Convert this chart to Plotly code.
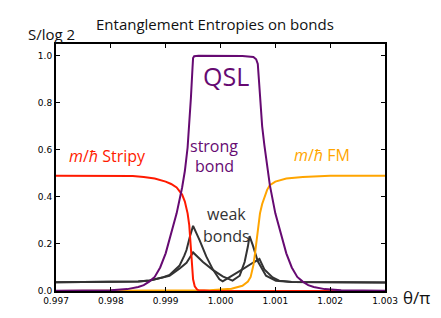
import plotly.graph_objects as go

# ---- data ----
stripy_x = [0.997, 0.998, 0.9984, 0.9986, 0.9988, 0.9990, 0.9991, 0.9992, 0.9993, 0.99935,
            0.9994, 0.99943, 0.99946, 0.99948, 0.9995, 0.99953, 0.99957, 0.9996, 0.9998, 1.0003, 1.003]
stripy_y = [0.49, 0.49, 0.489, 0.485, 0.478, 0.465, 0.455, 0.44, 0.41, 0.38,
            0.33, 0.28, 0.19, 0.11, 0.05, 0.02, 0.007, 0.003, 0.001, 0.0, 0.0]

fm_x = [0.997, 0.9995, 0.9998, 1.0000, 1.0002, 1.0004, 1.0005, 1.00055, 1.0006, 1.00063,
        1.00066, 1.00069, 1.00072, 1.00076, 1.0008, 1.00085, 1.0009, 1.001, 1.0012, 1.0015, 1.002, 1.003]
fm_y = [0.0, 0.001, 0.003, 0.006, 0.01, 0.022, 0.04, 0.06, 0.11, 0.16,
        0.22, 0.28, 0.33, 0.37, 0.40, 0.43, 0.45, 0.465, 0.478, 0.485, 0.49, 0.49]

strong_x = [0.997, 0.998, 0.9983, 0.9985, 0.9986, 0.9987, 0.9988, 0.9989, 0.9990, 0.9991,
            0.9992, 0.9993, 0.99935, 0.9994, 0.99943, 0.99946, 0.99949, 0.9995, 0.99952, 0.9996,
            1.0004, 1.0006, 1.00065, 1.00068, 1.0007, 1.00073, 1.00076, 1.0008, 1.00085, 1.0009,
            1.001, 1.0011, 1.0012, 1.0013, 1.0014, 1.0015, 1.0016, 1.0017, 1.0019, 1.0022, 1.003]
strong_y = [0.001, 0.003, 0.008, 0.017, 0.025, 0.04, 0.06, 0.10, 0.16, 0.24,
            0.33, 0.44, 0.51, 0.61, 0.70, 0.82, 0.95, 0.99, 0.998, 1.0,
            0.999, 0.995, 0.985, 0.965, 0.90, 0.80, 0.70, 0.62, 0.53, 0.45,
            0.33, 0.24, 0.16, 0.10, 0.06, 0.04, 0.025, 0.017, 0.008, 0.003, 0.001]

weak1_x = [0.997, 0.998, 0.9985, 0.99871, 0.99895, 0.99907, 0.99925, 0.99934, 0.99938, 0.99944,
           0.9995, 0.99962, 0.99974, 0.99986, 0.99998, 1.00004, 1.00022, 1.0004, 1.00059, 1.00071,
           1.0008, 1.00095, 1.00107, 1.0013, 1.003]
weak1_y = [0.037, 0.037, 0.04, 0.045, 0.058, 0.068, 0.107, 0.15, 0.174, 0.23,
           0.277, 0.215, 0.147, 0.092, 0.05, 0.041, 0.065, 0.092, 0.12, 0.136,
           0.092, 0.058, 0.044, 0.038, 0.036]

weak2_x = [0.997, 0.998, 0.9985, 0.99871, 0.99907, 0.99925, 0.99938, 0.99947, 0.9995, 0.99968,
           0.99986, 1.00004, 1.00022, 1.00035, 1.00044, 1.0005, 1.00053, 1.00059, 1.00068, 1.00083,
           1.00101, 1.0013, 1.003]
weak2_y = [0.037, 0.037, 0.04, 0.045, 0.065, 0.095, 0.12, 0.153, 0.164, 0.123,
           0.09, 0.062, 0.044, 0.065, 0.123, 0.19, 0.233, 0.194, 0.126, 0.065,
           0.044, 0.038, 0.036]

x_ticks = [0.997, 0.998, 0.999, 1.000, 1.001, 1.002, 1.003]
x_tick_labels = ["0.997", "0.998", "0.999", "1.000", "1.001", "1.002", "1.003"]
y_ticks = [0.0, 0.2, 0.4, 0.6, 0.8, 1.0]
y_tick_labels = ["0.0", "0.2", "0.4", "0.6", "0.8", "1.0"]

GRAY = "#333333"
PURPLE = "#660a72"
RED = "#ff1a00"
ORANGE = "#ffa500"

fig = go.Figure()
fig.add_trace(go.Scatter(x=weak1_x, y=weak1_y, mode="lines", line=dict(color=GRAY, width=2)))
fig.add_trace(go.Scatter(x=weak2_x, y=weak2_y, mode="lines", line=dict(color=GRAY, width=2)))
fig.add_trace(go.Scatter(x=fm_x, y=fm_y, mode="lines", line=dict(color=ORANGE, width=2)))
fig.add_trace(go.Scatter(x=stripy_x, y=stripy_y, mode="lines", line=dict(color=RED, width=2)))
fig.add_trace(go.Scatter(x=strong_x, y=strong_y, mode="lines", line=dict(color=PURPLE, width=2)))

# page body has an 8px margin; figure placed so the plot box spans x 56..385, y 44..299 in the window
OFF = 8
W, H = 441 - OFF, 318 - OFF
L, T = 56 - OFF, 44 - OFF
pw, ph = 329, 255
R, B = W - L - pw, H - T - ph


def px(x):
    return (x - OFF - L) / pw


def py(y):
    return (T + OFF + ph - y) / ph


ann_font = "Open Sans"
annotations = [
    dict(text="Entanglement Entropies on bonds", x=px(215), y=py(23), size=15, color="#111111"),
    dict(text="S/log 2", x=px(51), y=py(34), size=15, color="#111111"),
    dict(text="θ/π", x=px(416), y=py(306), size=17, color="#111111"),
    dict(text="QSL", x=px(226), y=py(77), size=25, color=PURPLE),
    dict(text="strong", x=px(214), y=py(149), size=16, color=PURPLE),
    dict(text="bond", x=px(214), y=py(170), size=16, color=PURPLE),
    dict(text="weak", x=px(226), y=py(220), size=16, color=GRAY),
    dict(text="bonds", x=px(226), y=py(242), size=16, color=GRAY),
    dict(text="<i>m</i>/<i>ħ</i> Stripy", x=px(107), y=py(160), size=16, color=RED),
    dict(text="<i>m</i>/<i>ħ</i> FM", x=px(322), y=py(159), size=16, color=ORANGE),
]
fig.update_layout(annotations=[
    dict(text=a["text"], x=a["x"], y=a["y"], xref="paper", yref="paper",
         xanchor="center", yanchor="middle", showarrow=False,
         font=dict(family=ann_font, size=a["size"], color=a["color"]))
    for a in annotations
])

axis_common = dict(showgrid=False, zeroline=False, showline=True, linecolor="black", linewidth=2,
                   mirror="ticks", ticks="inside", ticklen=4, tickwidth=1, tickcolor="black",
                   tickfont=dict(family="DejaVu Sans", size=9, color="black"))
fig.update_xaxes(range=[0.997, 1.003], tickvals=x_ticks, ticktext=x_tick_labels, **axis_common)
fig.update_yaxes(range=[0, 1.05], tickvals=y_ticks, ticktext=y_tick_labels, **axis_common)

fig.update_layout(width=W, height=H, margin=dict(l=L, r=R, t=T, b=B, pad=0),
                  plot_bgcolor="white", paper_bgcolor="white", showlegend=False)

fig.write_html("out.html")
